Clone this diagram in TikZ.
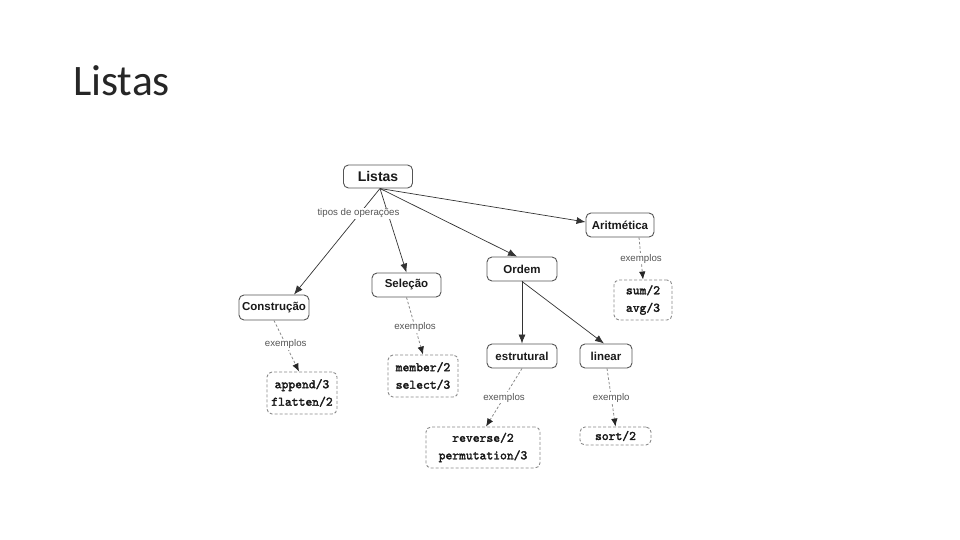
\documentclass[tikz,border=0pt]{standalone}
\usepackage{fontspec}
\setmainfont{Liberation Sans}
\newfontfamily\titlefont{Carlito}
\newfontfamily\cmono[FakeBold=2.2]{lmmono10-regular.otf}
\usetikzlibrary{arrows.meta}
\definecolor{boxline}{HTML}{555555}
\definecolor{dashline}{HTML}{8A8A8A}
\definecolor{lbl}{HTML}{555555}
\definecolor{edge}{HTML}{333333}
\tikzset{
  concept/.style={draw=boxline, line width=0.9pt, rounded corners=5pt, fill=white,
    inner sep=0pt, align=center, font=\fontsize{11.5}{13}\selectfont\bfseries, text=black!90},
  example/.style={draw=dashline, line width=0.9pt, dash pattern=on 3pt off 2pt, rounded corners=5pt,
    inner sep=0pt, align=center, font=\cmono\fontsize{13}{17.5}\selectfont, text=black!90},
  link/.style={font=\fontsize{9.7}{11}\selectfont, text=lbl, inner sep=1pt, fill=white},
  solidarrow/.style={draw=edge, line width=0.7pt, -{Latex[length=9pt,width=7pt]}},
  dasharrow/.style={draw=dashline, line width=0.8pt, dash pattern=on 2.5pt off 2pt,
    -{Latex[length=8pt,width=6.5pt,fill=black!85,color=black!85]}},
}
\begin{document}
\begin{tikzpicture}[x=1pt,y=-1pt]
\useasboundingbox (0,0) rectangle (960,540);
\fill[white] (0,0) rectangle (960,540);
\node[anchor=west, inner sep=0pt, font=\titlefont\fontsize{43.5}{48}\selectfont, text=black!85] (title) at (73,81) {Listas};

\node[concept, minimum width=69pt, minimum height=23pt, font=\fontsize{14}{16}\selectfont\bfseries] (listas) at (378,176.5) {Listas};
\node[concept, minimum width=68pt, minimum height=24pt] (arit) at (620,225) {Aritmética};
\node[concept, minimum width=70pt, minimum height=24pt] (ordem) at (522,269) {Ordem};
\node[concept, minimum width=69pt, minimum height=24pt] (sel) at (406.5,285) {Seleção};
\node[concept, minimum width=70pt, minimum height=25pt] (cons) at (274,307.5) {Construção};
\node[concept, minimum width=70pt, minimum height=24pt] (estr) at (522,356) {estrutural};
\node[concept, minimum width=52pt, minimum height=24pt] (linear) at (606,356) {linear};

\node[example, minimum width=58pt, minimum height=40pt] (sum) at (643,300) {sum/2\\avg/3};
\node[example, minimum width=70pt, minimum height=42pt] (mem) at (423,376) {member/2\\select/3};
\node[example, minimum width=70pt, minimum height=42pt] (app) at (302,393) {append/3\\flatten/2};
\node[example, minimum width=114pt, minimum height=41pt] (rev) at (483,447.5) {reverse/2\\permutation/3};
\node[example, minimum width=71pt, minimum height=18pt] (sort) at (615.5,436) {sort/2};

\coordinate (lo) at (380,188.5);
\draw[solidarrow] (lo) -- ([xshift=20pt]cons.north);
\draw[solidarrow] (lo) -- (sel.north);
\node[link] (tipos) at (358.5,213.5) {tipos de operações};
\draw[solidarrow] (lo) -- ([xshift=-5pt]ordem.north);
\draw[solidarrow] (lo) -- ([yshift=3pt]arit.west);
\draw[solidarrow] (ordem.south) -- (estr.north);
\draw[solidarrow] (ordem.south) -- ([xshift=-2pt]linear.north);

\draw[dasharrow] ([xshift=19pt]arit.south) -- node[link] (l1) {exemplos} (sum.north);
\draw[dasharrow] (sel.south) -- node[link, pos=0.52] (l2) {exemplos} (mem.north);
\draw[dasharrow] (cons.south) -- node[link, pos=0.47] (l3) {exemplos} ([xshift=-3pt]app.north);
\draw[dasharrow] (estr.south) -- node[link, pos=0.5] (l4) {exemplos} ([xshift=3pt]rev.north);
\draw[dasharrow] ([xshift=1pt]linear.south) -- node[link, pos=0.5] (l5) {exemplo} (sort.north);
\end{tikzpicture}
\end{document}
